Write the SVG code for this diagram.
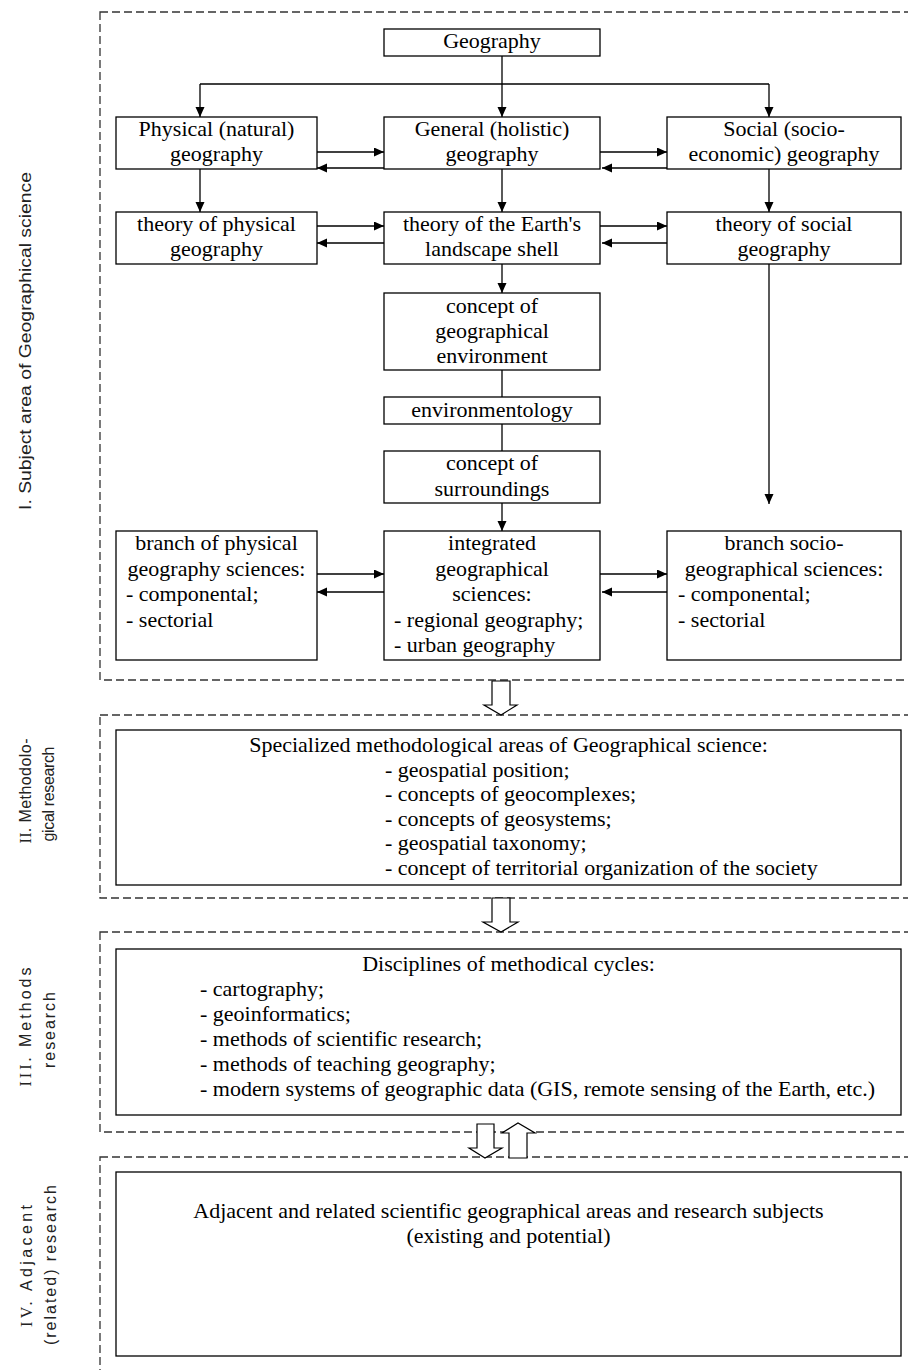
<svg xmlns="http://www.w3.org/2000/svg" width="908" height="1370" viewBox="0 0 908 1370">
<style>
  .box { fill: #fff; stroke: #000; stroke-width: 1.3; }
  .sec { fill: none; stroke: #333; stroke-width: 1.3; stroke-dasharray: 8 4; }
  .t { font-family: "Liberation Serif", "Times New Roman", serif; font-size: 22px; fill: #000; }
  .c { text-anchor: middle; }
  .lbl { font-family: "Liberation Sans", Arial, sans-serif; font-size: 16px; fill: #222; text-anchor: middle; }
  .num { font-family: "Liberation Serif", "Times New Roman", serif; }
  .v { fill: none; stroke: #000; stroke-width: 1.3; }
  .h { fill: none; stroke: #000; stroke-width: 1.7; }
  .hollow { fill: #fff; stroke: #000; stroke-width: 1.2; }
</style>
<defs>
  <marker id="ah" markerUnits="userSpaceOnUse" markerWidth="11" markerHeight="10" refX="10" refY="4.5" orient="auto">
    <path d="M0,0 L10,4.5 L0,9 z" fill="#000"/>
  </marker>
</defs>
<rect width="908" height="1370" fill="#fff"/>

<!-- section frames -->
<g id="sections">
  <rect class="sec" x="100" y="12" width="830" height="668"/>
  <rect class="sec" x="100" y="715" width="830" height="183"/>
  <rect class="sec" x="100" y="932" width="830" height="200"/>
  <rect class="sec" x="100" y="1157" width="830" height="240"/>
</g>

<!-- section labels -->
<g id="label-I">
  <text class="lbl" font-size="19" transform="translate(31,341) rotate(-90)" textLength="338" lengthAdjust="spacingAndGlyphs">I. Subject area of Geographical science</text>
</g>
<g id="label-II">
  <text class="lbl" transform="translate(31,791) rotate(-90)" textLength="105" lengthAdjust="spacing"><tspan class="num">II.</tspan> Methodolo-</text>
  <text class="lbl" transform="translate(54,794) rotate(-90)" textLength="95" lengthAdjust="spacing">gical research</text>
</g>
<g id="label-III">
  <text class="lbl" transform="translate(31,1027) rotate(-90)" textLength="119" lengthAdjust="spacing"><tspan class="num">III.</tspan> Methods</text>
  <text class="lbl" transform="translate(55,1030) rotate(-90)" textLength="76" lengthAdjust="spacing">research</text>
</g>
<g id="label-IV">
  <text class="lbl" transform="translate(32,1266) rotate(-90)" textLength="122" lengthAdjust="spacing"><tspan class="num">IV.</tspan> Adjacent</text>
  <text class="lbl" transform="translate(56,1265) rotate(-90)" textLength="160" lengthAdjust="spacing">(related) research</text>
</g>

<!-- connectors -->
<g id="connectors">
  <path class="v" d="M502,56 V117" marker-end="url(#ah)"/>
  <path class="v" d="M200,84 H769"/>
  <path class="v" d="M200,84 V117" marker-end="url(#ah)"/>
  <path class="v" d="M769,84 V117" marker-end="url(#ah)"/>
  <path class="v" d="M200,169 V212" marker-end="url(#ah)"/>
  <path class="v" d="M502,169 V212" marker-end="url(#ah)"/>
  <path class="v" d="M769,169 V212" marker-end="url(#ah)"/>
  <path class="v" d="M502,264 V293" marker-end="url(#ah)"/>
  <path class="v" d="M502,370 V397"/>
  <path class="v" d="M502,424 V451"/>
  <path class="v" d="M502,503 V531" marker-end="url(#ah)"/>
  <path class="v" d="M769,264 V504" marker-end="url(#ah)"/>

  <path class="h" d="M317,152 H384" marker-end="url(#ah)"/>
  <path class="h" d="M384,168 H317" marker-end="url(#ah)"/>
  <path class="h" d="M600,152 H667" marker-end="url(#ah)"/>
  <path class="h" d="M667,168 H602" marker-end="url(#ah)"/>

  <path class="h" d="M317,226 H384" marker-end="url(#ah)"/>
  <path class="h" d="M384,243 H317" marker-end="url(#ah)"/>
  <path class="h" d="M600,226 H667" marker-end="url(#ah)"/>
  <path class="h" d="M667,243 H602" marker-end="url(#ah)"/>

  <path class="h" d="M317,574 H384" marker-end="url(#ah)"/>
  <path class="h" d="M384,592 H317" marker-end="url(#ah)"/>
  <path class="h" d="M600,574 H667" marker-end="url(#ah)"/>
  <path class="h" d="M667,592 H602" marker-end="url(#ah)"/>

  <polygon class="hollow" points="492,681 510,681 510,705 517,705 501,715 484,705 492,705"/>
  <polygon class="hollow" points="492,898 510,898 510,922 518,922 501,932 483,922 492,922"/>
  <polygon class="hollow" points="477,1124 494,1124 494,1148 502,1148 485,1158 469,1148 477,1148"/>
  <polygon class="hollow" points="509,1158 527,1158 527,1133 535,1133 518,1123 502,1133 509,1133"/>
</g>

<!-- nodes -->
<g id="geography">
  <rect class="box" x="384" y="29" width="216" height="27"/>
  <text class="t c" x="492" y="48">Geography</text>
</g>
<g id="physical">
  <rect class="box" x="116" y="117" width="201" height="52"/>
  <text class="t c" x="216.5" y="136">Physical (natural)</text>
  <text class="t c" x="216.5" y="161">geography</text>
</g>
<g id="general">
  <rect class="box" x="384" y="117" width="216" height="52"/>
  <text class="t c" x="492" y="136">General (holistic)</text>
  <text class="t c" x="492" y="161">geography</text>
</g>
<g id="social">
  <rect class="box" x="667" y="117" width="234" height="52"/>
  <text class="t c" x="784" y="136">Social (socio-</text>
  <text class="t c" x="784" y="161">economic) geography</text>
</g>
<g id="theory-physical">
  <rect class="box" x="116" y="212" width="201" height="52"/>
  <text class="t c" x="216.5" y="231">theory of physical</text>
  <text class="t c" x="216.5" y="256">geography</text>
</g>
<g id="theory-shell">
  <rect class="box" x="384" y="212" width="216" height="52"/>
  <text class="t c" x="492" y="231">theory of the Earth's</text>
  <text class="t c" x="492" y="256">landscape shell</text>
</g>
<g id="theory-social">
  <rect class="box" x="667" y="212" width="234" height="52"/>
  <text class="t c" x="784" y="231">theory of social</text>
  <text class="t c" x="784" y="256">geography</text>
</g>
<g id="concept-env">
  <rect class="box" x="384" y="293" width="216" height="77"/>
  <text class="t c" x="492" y="313">concept of</text>
  <text class="t c" x="492" y="338">geographical</text>
  <text class="t c" x="492" y="363">environment</text>
</g>
<g id="environmentology">
  <rect class="box" x="384" y="397" width="216" height="27"/>
  <text class="t c" x="492" y="417">environmentology</text>
</g>
<g id="concept-surr">
  <rect class="box" x="384" y="451" width="216" height="52"/>
  <text class="t c" x="492" y="470">concept of</text>
  <text class="t c" x="492" y="496">surroundings</text>
</g>
<g id="branch-physical">
  <rect class="box" x="116" y="531" width="201" height="129"/>
  <text class="t c" x="216.5" y="550">branch of physical</text>
  <text class="t c" x="216.5" y="575.5">geography sciences:</text>
  <text class="t" x="126" y="601">- componental;</text>
  <text class="t" x="126" y="626.5">- sectorial</text>
</g>
<g id="integrated">
  <rect class="box" x="384" y="531" width="216" height="129"/>
  <text class="t c" x="492" y="550">integrated</text>
  <text class="t c" x="492" y="575.5">geographical</text>
  <text class="t c" x="492" y="601">sciences:</text>
  <text class="t" x="394" y="626.5">- regional geography;</text>
  <text class="t" x="394" y="652">- urban geography</text>
</g>
<g id="branch-social">
  <rect class="box" x="667" y="531" width="234" height="129"/>
  <text class="t c" x="784" y="550">branch socio-</text>
  <text class="t c" x="784" y="575.5">geographical sciences:</text>
  <text class="t" x="678" y="601">- componental;</text>
  <text class="t" x="678" y="626.5">- sectorial</text>
</g>
<g id="methodological">
  <rect class="box" x="116" y="730" width="785" height="155"/>
  <text class="t c" x="508.5" y="752">Specialized methodological areas of Geographical science:</text>
  <text class="t" x="385" y="776.5">- geospatial position;</text>
  <text class="t" x="385" y="801">- concepts of geocomplexes;</text>
  <text class="t" x="385" y="825.5">- concepts of geosystems;</text>
  <text class="t" x="385" y="850">- geospatial taxonomy;</text>
  <text class="t" x="385" y="874.5">- concept of territorial organization of the society</text>
</g>
<g id="methods">
  <rect class="box" x="116" y="949" width="785" height="166"/>
  <text class="t c" x="508.5" y="971">Disciplines of methodical cycles:</text>
  <text class="t" x="200" y="996">- cartography;</text>
  <text class="t" x="200" y="1021">- geoinformatics;</text>
  <text class="t" x="200" y="1046">- methods of scientific research;</text>
  <text class="t" x="200" y="1071">- methods of teaching geography;</text>
  <text class="t" x="200" y="1096">- modern systems of geographic data (GIS, remote sensing of the Earth, etc.)</text>
</g>
<g id="adjacent">
  <rect class="box" x="116" y="1172" width="785" height="184"/>
  <text class="t c" x="508.5" y="1218">Adjacent and related scientific geographical areas and research subjects</text>
  <text class="t c" x="508.5" y="1243">(existing and potential)</text>
</g>
</svg>
